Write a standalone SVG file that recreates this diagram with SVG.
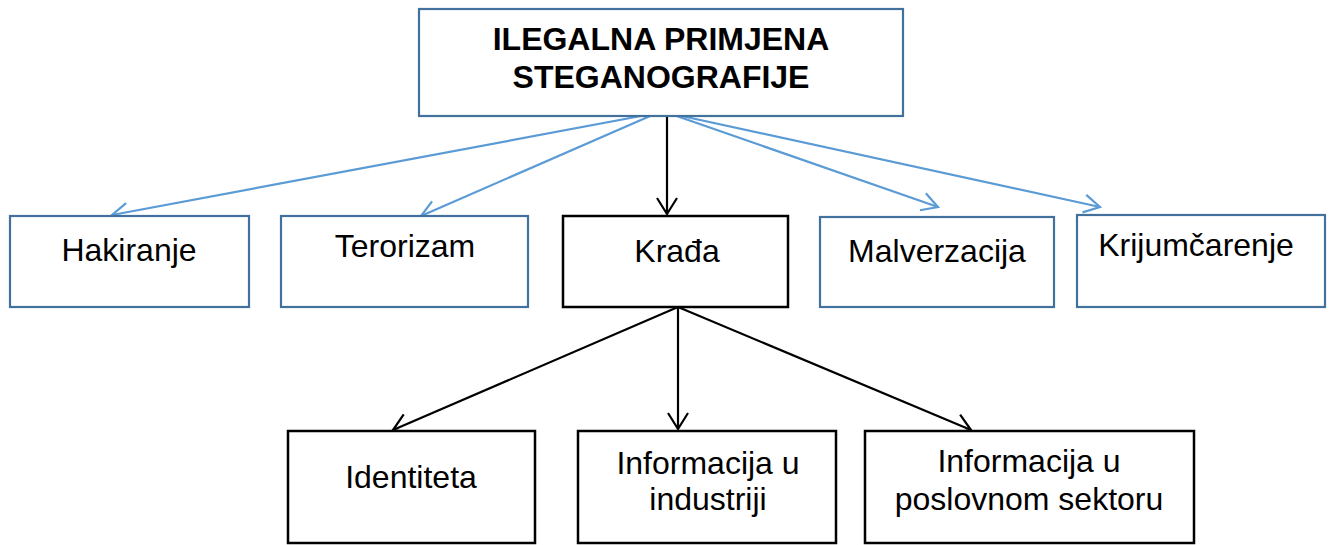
<svg xmlns="http://www.w3.org/2000/svg" width="1330" height="545" viewBox="0 0 1330 545">
<style>
  .bb { fill: #ffffff; stroke: #41719c; stroke-width: 2.2; }
  .kb { fill: #ffffff; stroke: #000000; stroke-width: 2.5; }
  .t { font-family: "Liberation Sans", Arial, sans-serif; font-size: 32px; fill: #000000; text-anchor: middle; }
  .tb { font-family: "Liberation Sans", Arial, sans-serif; font-size: 32px; font-weight: bold; fill: #000000; text-anchor: middle; }
  .cb { fill: none; stroke: #5b9bd5; stroke-width: 2.2; }
  .ck { fill: none; stroke: #000000; stroke-width: 2.2; }
</style>
<defs>
  <marker id="ab" markerUnits="userSpaceOnUse" markerWidth="24" markerHeight="24" viewBox="-18 -12 20 24" refX="0" refY="0" orient="auto">
    <path d="M -16 -9 L 0 0 L -16 9" fill="none" stroke="#5b9bd5" stroke-width="2.2"/>
  </marker>
  <marker id="ak" markerUnits="userSpaceOnUse" markerWidth="24" markerHeight="24" viewBox="-18 -12 20 24" refX="0" refY="0" orient="auto">
    <path d="M -16 -10 L 0 0 L -16 10" fill="none" stroke="#000000" stroke-width="2.2"/>
  </marker>
</defs>
<rect width="1330" height="545" fill="#ffffff"/>

<g id="connectors">
  <line class="cb" x1="657" y1="113" x2="112" y2="215" marker-end="url(#ab)"/>
  <line class="cb" x1="657" y1="113" x2="421" y2="216" marker-end="url(#ab)"/>
  <line class="cb" x1="668" y1="113" x2="938" y2="207" marker-end="url(#ab)"/>
  <line class="cb" x1="668" y1="113" x2="1100" y2="207" marker-end="url(#ab)"/>
  <line class="ck" x1="667" y1="117" x2="667" y2="214" marker-end="url(#ak)"/>
  <line class="ck" x1="678" y1="307" x2="393" y2="430" marker-end="url(#ak)"/>
  <line class="ck" x1="678" y1="307" x2="678" y2="429" marker-end="url(#ak)"/>
  <line class="ck" x1="678" y1="307" x2="971" y2="430" marker-end="url(#ak)"/>
</g>

<g id="root">
  <rect class="bb" x="419" y="9" width="484" height="107"/>
  <text class="tb" x="661" y="50">ILEGALNA PRIMJENA</text>
  <text class="tb" x="661" y="88">STEGANOGRAFIJE</text>
</g>

<g id="hakiranje">
  <rect class="bb" x="10" y="216" width="239" height="91"/>
  <text class="t" x="129" y="261">Hakiranje</text>
</g>

<g id="terorizam">
  <rect class="bb" x="281" y="216" width="247" height="91"/>
  <text class="t" x="405" y="257">Terorizam</text>
</g>

<g id="krada">
  <rect class="kb" x="563" y="216" width="225" height="91"/>
  <text class="t" x="677" y="262">Krađa</text>
</g>

<g id="malverzacija">
  <rect class="bb" x="820" y="217" width="234" height="90"/>
  <text class="t" x="937" y="262">Malverzacija</text>
</g>

<g id="krijumcarenje">
  <rect class="bb" x="1077" y="215" width="248" height="92"/>
  <text class="t" x="1196" y="256">Krijumčarenje</text>
</g>

<g id="identiteta">
  <rect class="kb" x="288" y="431" width="247" height="112"/>
  <text class="t" x="411" y="488">Identiteta</text>
</g>

<g id="industrija">
  <rect class="kb" x="578" y="431" width="258" height="112"/>
  <text class="t" x="708" y="474">Informacija u</text>
  <text class="t" x="708" y="510">industriji</text>
</g>

<g id="poslovni">
  <rect class="kb" x="865" y="431" width="329" height="112"/>
  <text class="t" x="1029" y="472">Informacija u</text>
  <text class="t" x="1029" y="510">poslovnom sektoru</text>
</g>
</svg>
